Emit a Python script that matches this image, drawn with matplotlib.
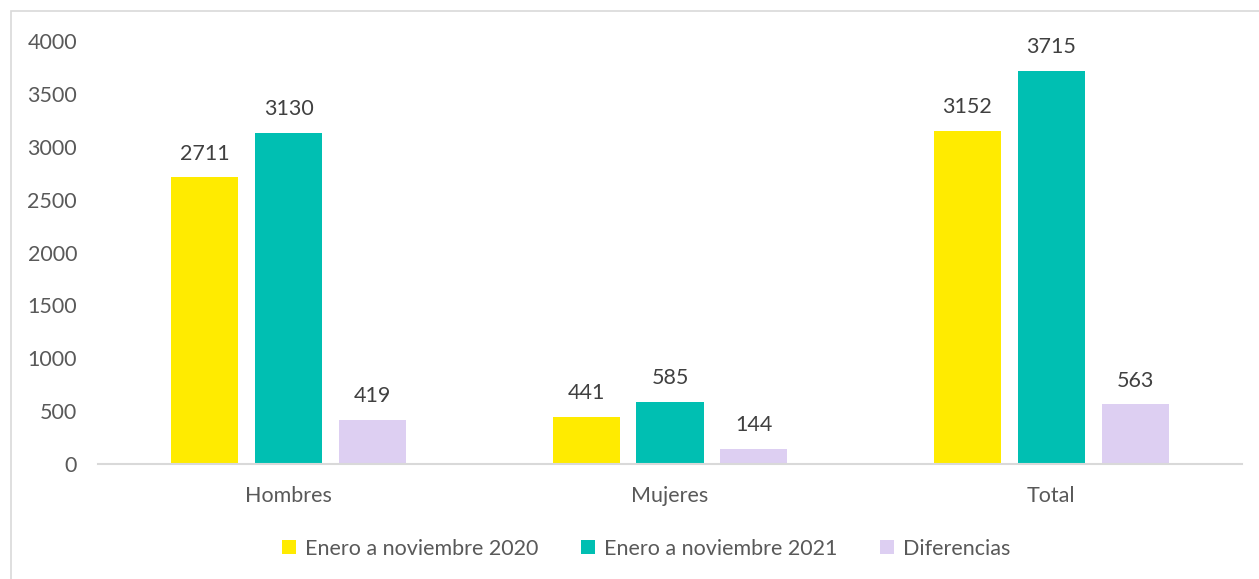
import numpy as np
import matplotlib.pyplot as plt
from matplotlib.patches import Rectangle

plt.rcParams['font.family'] = ['Lato', 'DejaVu Sans']

# datos
categorias = ['Hombres', 'Mujeres', 'Total']
series = ['Enero a noviembre 2020', 'Enero a noviembre 2021', 'Diferencias']
v2020 = [2711, 441, 3152]
v2021 = [3130, 585, 3715]
dif = [419, 144, 563]

colores = ['#FFEB00', '#00BFB2', '#DDCFF2']

fig = plt.figure(figsize=(12.59, 5.79), dpi=100)
ax = fig.add_axes([0.0778, 0.1986, 0.9087, 0.7304])

x = np.arange(len(categorias))
ancho = 0.176
paso = 0.22
for i, (vals, col, nom) in enumerate(zip([v2020, v2021, dif], colores, series)):
    barras = ax.bar(x + (i - 1) * paso, vals, ancho, color=col, label=nom)
    for b, v in zip(barras, vals):
        ax.annotate(str(v), (b.get_x() + b.get_width() / 2, v),
                    xytext=(0, 10), textcoords='offset points',
                    ha='center', va='bottom', fontsize=15.5, color='#404040')

ax.set_xlim(-0.5, 2.5)
ax.set_ylim(0, 4000)
ax.set_yticks(np.arange(0, 4001, 500))
ax.set_xticks(x)
ax.set_xticklabels(categorias)
ax.tick_params(axis='both', length=0, labelsize=15.5, colors='#595959')
ax.tick_params(axis='y', pad=15)
ax.tick_params(axis='x', pad=16)
for s in ['top', 'right', 'left']:
    ax.spines[s].set_visible(False)
ax.spines['bottom'].set_color('#D9D9D9')
ax.spines['bottom'].set_linewidth(1.5)

leg = ax.legend(loc='center', bbox_to_anchor=(0.479, -0.2), ncol=3, frameon=False,
                fontsize=15.5, handlelength=0.65, handleheight=0.65, handletextpad=0.4,
                columnspacing=2.0, labelcolor='#595959')

# borde del gráfico
fig.patches.append(Rectangle((11 / 1259, -0.01), 1.1, 1 - 11 / 579 + 0.01,
                             transform=fig.transFigure, fill=False,
                             edgecolor='#D9D9D9', linewidth=1.2))

fig.savefig('out.png', dpi=100)
